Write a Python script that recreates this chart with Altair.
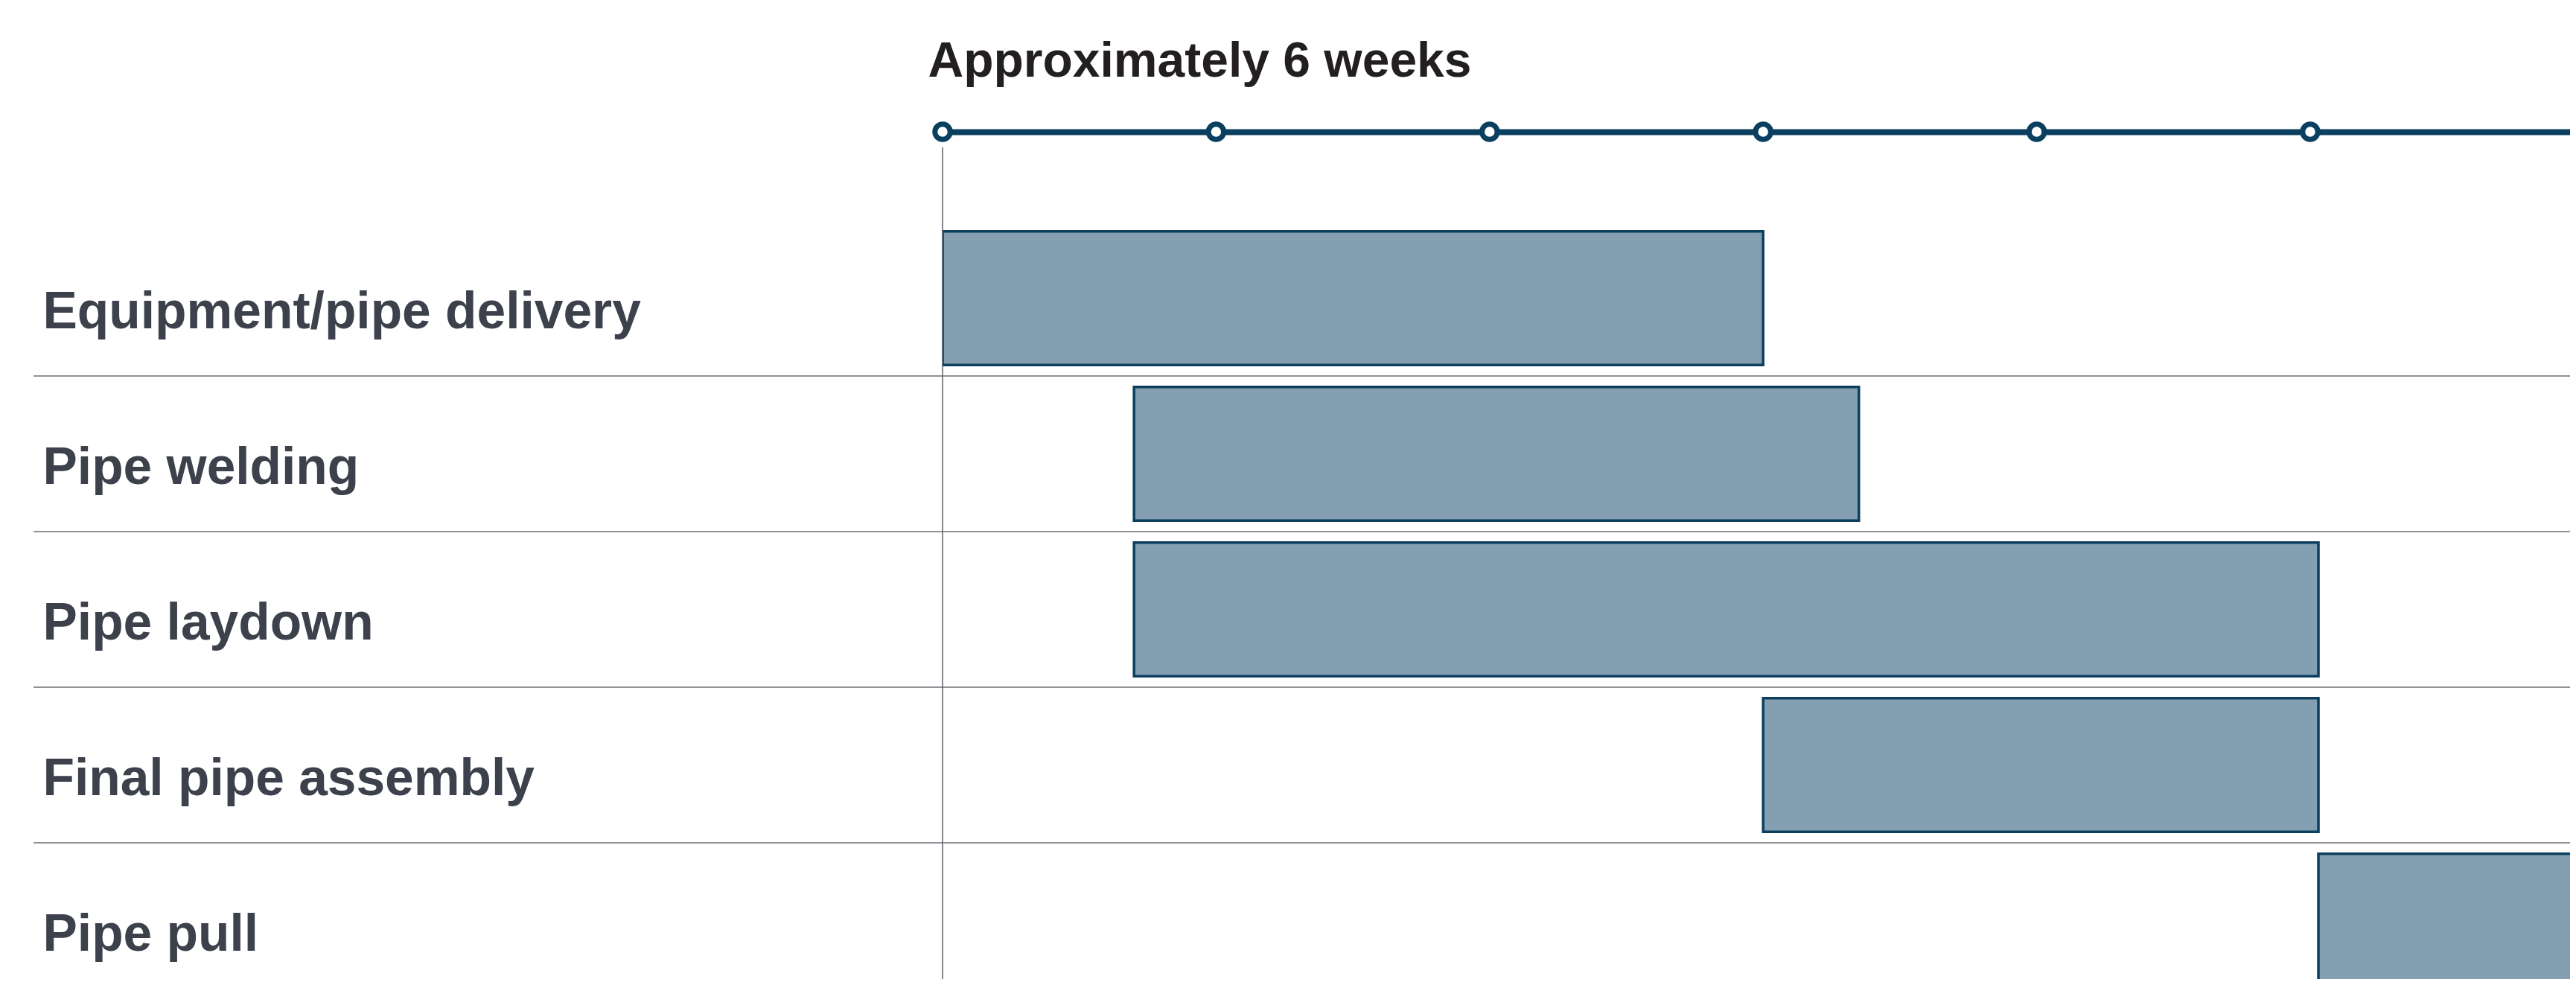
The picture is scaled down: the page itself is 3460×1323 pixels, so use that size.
import altair as alt
import pandas as pd

# ---------------- data ----------------
tasks = ["Equipment/pipe delivery", "Pipe welding", "Pipe laydown",
         "Final pipe assembly", "Pipe pull"]
starts = [0.0, 0.7, 0.7, 3.0, 5.03]     # weeks
ends = [3.0, 3.35, 5.03, 5.03, 6.0]     # weeks
weeks = [0, 1, 2, 3, 4, 5]              # timeline markers
title_text = "Approximately 6 weeks"

# ---------------- layout ----------------
PAGE = 8
plot_left, plot_top = 1266, 198
plot_right, plot_bottom = 3452, 1315
W = plot_right - plot_left
H = plot_bottom - plot_top
px_per_week = 367.4
x_max = W / px_per_week
row_step = 209
band_start = 296 - plot_top
band_end = band_start + row_step * len(tasks)
pi = 0.14
sep_shift = row_step * pi / 2

FONT = "Liberation Sans"
DARK_BLUE = "#0b3f5f"

df = pd.DataFrame({"task": tasks, "start": starts, "end": ends})
seps_df = pd.DataFrame({"task": tasks[:-1]})
wk_df = pd.DataFrame({"week": weeks})
v_df = pd.DataFrame({"start": [0]})

xscale = alt.Scale(domain=[0, x_max], nice=False, zero=False)
yscale = alt.Scale(domain=tasks, range=[band_start, band_end],
                   paddingInner=pi, paddingOuter=pi / 2)

x_axis = alt.Axis(orient="top", offset=plot_top - 177, domain=True,
                  domainColor=DARK_BLUE, domainWidth=8, ticks=False,
                  labels=False, grid=False, title=title_text,
                  titleX=-20, titleY=102 - 177, titleAlign="left",
                  titleAnchor="start", titleBaseline="alphabetic",
                  titleFont=FONT, titleFontSize=66, titleFontWeight="bold",
                  titleColor="#231f20", titlePadding=0)

y_axis = alt.Axis(orient="left", title=None, ticks=False,
                  grid=False, domain=False, labelAlign="left",
                  labelBaseline="alphabetic", labelPadding=plot_left - 57,
                  labelOffset=40, labelFont=FONT, labelFontSize=69.5,
                  labelFontWeight="bold", labelColor="#3d414b",
                  labelLimit=1200)

bars = alt.Chart(df).mark_bar(fill="#849fb2", stroke="#0c3e5e",
                              strokeWidth=3.5, clip=True).encode(
    x=alt.X("start:Q", scale=xscale, axis=x_axis),
    x2="end:Q",
    y=alt.Y("task:N", scale=yscale, axis=y_axis),
)

seps = alt.Chart(seps_df).mark_rule(color="#6b6e75", strokeWidth=1.5,
                                    yOffset=sep_shift).encode(
    y=alt.Y("task:N", scale=yscale, axis=y_axis, bandPosition=1),
    x=alt.value(45 - plot_left),
    x2=alt.value(W),
)

vline = alt.Chart(v_df).mark_rule(color="#5c6068", strokeWidth=1.5).encode(
    x=alt.X("start:Q", scale=xscale, axis=x_axis),
    y=alt.value(0),
    y2=alt.value(H),
)

circles = alt.Chart(wk_df).mark_circle(fill="white", stroke=DARK_BLUE,
                                       strokeWidth=7, size=420,
                                       opacity=1).encode(
    x=alt.X("week:Q", scale=xscale, axis=x_axis),
    y=alt.value(177 - plot_top),
)

chart = alt.layer(seps, vline, bars, circles).properties(
    width=W, height=H,
    padding={"left": plot_left - PAGE, "top": plot_top - PAGE,
             "right": 0, "bottom": 0},
    autosize=alt.AutoSizeParams(type="none"),
    background="white",
).configure_view(stroke=None)

chart.save("out.html", embed_options={"renderer": "svg", "actions": False})
